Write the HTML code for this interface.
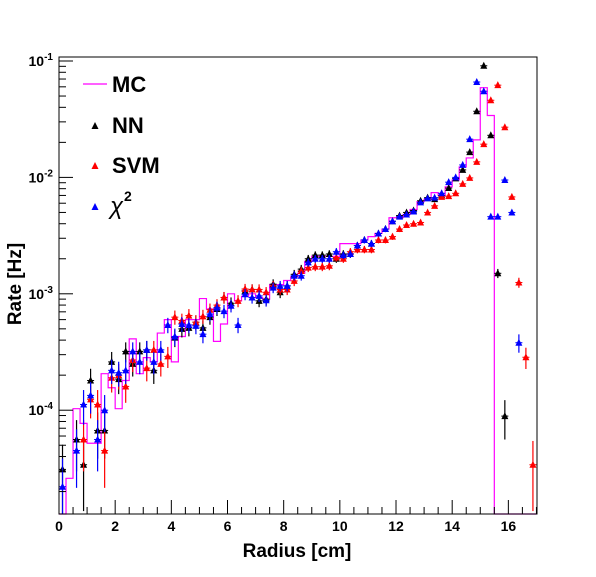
<!DOCTYPE html>
<html><head><meta charset="utf-8"><style>
body{margin:0;background:#fff}
svg text{font-family:"Liberation Sans",Arial,sans-serif}
</style></head><body>
<svg id="chart" width="596" height="572" viewBox="0 0 596 572" xmlns="http://www.w3.org/2000/svg">
<rect x="0" y="0" width="596" height="572" fill="#fff"/>
<g id="marks"></g>
<rect x="59" y="57" width="478" height="457" fill="none" stroke="#000" stroke-width="1"/>
<g id="axes"></g>
<text x="297" y="557" text-anchor="middle" font-size="19" font-weight="bold">Radius [cm]</text>
<text transform="translate(21,284) rotate(-90)" text-anchor="middle" font-size="19" font-weight="bold">Rate [Hz]</text>
<g>
<g><line x1="83" y1="84" x2="107" y2="84" stroke="#ff00ff" stroke-width="1.2"/><text x="112" y="92" font-size="22" font-weight="bold">MC</text></g>
<g><polygon points="91.5,129 98.5,129 95,122" fill="#000"/><text x="112" y="133" font-size="22" font-weight="bold">NN</text></g>
<g><polygon points="91.5,169 98.5,169 95,162" fill="#ff0000"/><text x="112" y="173" font-size="22" font-weight="bold">SVM</text></g>
<g><polygon points="91.5,210 98.5,210 95,203" fill="#0000ff"/><text x="110" y="214" font-size="24" font-style="italic">χ</text><text x="124" y="201" font-size="14" font-weight="bold">2</text></g>
</g>
</svg>
<script>
const binWidth = 0.25;
const mcRate = [0,2.6e-5,1.03e-4,7.7e-5,5.2e-5,5.2e-5,2.06e-4,1.56e-4,1.03e-4,1.8e-4,4.1e-4,2.06e-4,2.83e-4,2.6e-4,4.6e-4,6.0e-4,2.6e-4,4.3e-4,6.0e-4,6.0e-4,9.1e-4,7.4e-4,3.9e-4,5.5e-4,1.0e-3,8.7e-4,9.5e-4,1.0e-3,9.3e-4,9.0e-4,1.2e-3,1.2e-3,1.3e-3,1.4e-3,1.5e-3,1.9e-3,2.1e-3,2.1e-3,2.1e-3,2.1e-3,2.7e-3,2.7e-3,2.7e-3,2.9e-3,3.1e-3,3.3e-3,3.6e-3,4.5e-3,4.5e-3,4.8e-3,5.3e-3,6.2e-3,6.5e-3,7.4e-3,7.0e-3,8.3e-3,9.5e-3,1.23e-2,1.47e-2,2.1e-2,5.9e-2,3.4e-2,0,0,0,0,0,0];
const nnRate = [3.1e-5,null,5.6e-5,3.4e-5,1.8e-4,6.7e-5,6.7e-5,2.6e-4,1.85e-4,3.2e-4,2.5e-4,3.2e-4,3.3e-4,2.2e-4,null,null,4.2e-4,5.0e-4,5.1e-4,5.7e-4,5.1e-4,6.3e-4,7.4e-4,9.3e-4,8.3e-4,null,1.06e-3,1.09e-3,8.7e-4,9.0e-4,1.21e-3,1.03e-3,1.17e-3,1.47e-3,1.63e-3,2.0e-3,2.15e-3,2.15e-3,2.2e-3,2.0e-3,2.2e-3,2.2e-3,2.6e-3,2.9e-3,2.7e-3,3.3e-3,3.6e-3,4.2e-3,4.7e-3,5.0e-3,5.2e-3,6.3e-3,6.7e-3,6.5e-3,7.0e-3,8.1e-3,9.8e-3,1.16e-2,1.65e-2,3.7e-2,9.1e-2,2.3e-2,1.5e-3,8.9e-5,null,null,null,null];
const svmRate = [null,null,null,5.6e-5,1.24e-4,1.12e-4,4.5e-5,1.9e-4,2.0e-4,1.6e-4,2.7e-4,null,2.3e-4,3.3e-4,2.5e-4,2.9e-4,6.3e-4,5.9e-4,6.5e-4,5.7e-4,6.4e-4,7.3e-4,8.0e-4,9.3e-4,null,8.7e-4,1.1e-3,1.09e-3,1.09e-3,1.03e-3,1.17e-3,1.09e-3,1.09e-3,1.29e-3,1.57e-3,1.68e-3,1.71e-3,1.71e-3,1.74e-3,2.05e-3,2.0e-3,2.3e-3,2.4e-3,2.4e-3,2.4e-3,2.9e-3,2.9e-3,3.1e-3,3.6e-3,3.9e-3,4.0e-3,4.1e-3,5.0e-3,5.7e-3,6.8e-3,6.9e-3,7.3e-3,8.8e-3,9.9e-3,1.36e-2,1.93e-2,4.6e-2,6.2e-2,2.7e-2,6.8e-3,1.25e-3,2.85e-4,3.4e-5];
const chi2Rate = [2.2e-5,null,4.5e-5,1.12e-4,1.34e-4,5.6e-5,1.0e-4,2.2e-4,2.1e-4,2.2e-4,3.2e-4,2.6e-4,3.3e-4,2.6e-4,3.3e-4,5.4e-4,4.3e-4,5.5e-4,5.4e-4,5.3e-4,4.5e-4,6.7e-4,7.6e-4,7.1e-4,7.9e-4,5.4e-4,9.9e-4,9.3e-4,9.6e-4,8.8e-4,1.13e-3,1.17e-3,1.17e-3,1.43e-3,1.43e-3,1.86e-3,2.0e-3,2.0e-3,2.0e-3,2.3e-3,2.15e-3,2.2e-3,2.6e-3,2.9e-3,2.7e-3,3.3e-3,3.6e-3,4.2e-3,4.6e-3,4.8e-3,5.1e-3,6.1e-3,6.6e-3,6.7e-3,7.3e-3,9.1e-3,1.0e-2,1.28e-2,2.13e-2,6.6e-2,5.5e-2,4.6e-3,4.6e-3,9.5e-3,5.0e-3,3.8e-4,null,null];
const xTickLabels = ["0","2","4","6","8","10","12","14","16"];
const yDecades = [-4,-3,-2,-1];

const NS="http://www.w3.org/2000/svg";
const X0=59,X1=537,Y0=57,Y1=514,XMIN=0,XMAX=17.02;
const LOGTOP=-1+(61-57)/116.4, LOGBOT=-1-(514-61)/116.4;
function xs(v){return X0+(v-XMIN)/(XMAX-XMIN)*(X1-X0);}
function ys(v){const l=Math.log10(v);return Y0+(LOGTOP-l)/(LOGTOP-LOGBOT)*(Y1-Y0);}
function el(t,a,p){const e=document.createElementNS(NS,t);for(const k in a)e.setAttribute(k,a[k]);p.appendChild(e);return e;}
const marks=document.getElementById('marks');
const axes=document.getElementById('axes');

// MC histogram
let d="";let prevY=Y1;
mcRate.forEach((v,i)=>{
  const xa=xs(i*binWidth),xb=xs((i+1)*binWidth);
  const y=v>0?Math.min(ys(v),Y1):Y1;
  d+=(i===0?"M"+xa+","+y:"L"+xa+","+y)+"L"+xb+","+y;
});
const mc=el('path',{d:d,fill:'none',stroke:'#ff00ff','stroke-width':1.2},marks);



function series(arr,color,name){
  const g=el('g',{},marks);
  
  
  arr.forEach((v,i)=>{
    if(v==null)return;
    const cx=xs((i+0.5)*binWidth),cy=ys(v);
    const rel=Math.min(0.0035/Math.sqrt(v),0.93);
    const yt=ys(v*(1+rel)),yb=Math.min(ys(v*(1-rel)),Y1);
    const pt=el('g',{},g);
    
    
    el('line',{x1:cx,y1:yt,x2:cx,y2:yb,stroke:color,'stroke-width':1.2},pt);
    el('line',{x1:cx-3.5,y1:cy,x2:cx+3.5,y2:cy,stroke:color,'stroke-width':1},pt);
    el('polygon',{points:(cx-3.5)+","+(cy+3)+" "+(cx+3.5)+","+(cy+3)+" "+cx+","+(cy-4),fill:color},pt);
  });
}
series(nnRate,'#000000','nn');
series(svmRate,'#ff0000','svm');
series(chi2Rate,'#0000ff','chi2');

// x ticks
for(let v=0;v<=17.0;v+=0.5){
  const x=xs(v);const major=Math.abs(v/2-Math.round(v/2))<1e-6;
  el('line',{x1:x,y1:Y1,x2:x,y2:Y1-(major?14:7),stroke:'#000','stroke-width':1},axes);
}
xTickLabels.forEach((t,i)=>{
  const tx=el('text',{x:xs(i*2),y:Y1+17,'text-anchor':'middle','font-size':14,'font-weight':'bold'},axes);
  tx.textContent=t;
  
  
});
// y ticks
for(let dcd=-5;dcd<=-1;dcd++){
  for(let m=1;m<=9;m++){
    const v=m*Math.pow(10,dcd);const y=ys(v);
    if(y<Y0-0.5||y>Y1+0.5)continue;
    el('line',{x1:X0,y1:y,x2:X0+(m===1?14:7),y2:y,stroke:'#000','stroke-width':1},axes);
  }
}
yDecades.forEach(dc=>{
  const y=ys(Math.pow(10,dc));
  const tx=el('text',{x:X0-6,y:y+5,'text-anchor':'end','font-size':14,'font-weight':'bold'},axes);
  
  
  const a=document.createElementNS(NS,'tspan');a.textContent='10';tx.appendChild(a);
  const b=document.createElementNS(NS,'tspan');b.setAttribute('dy','-6');b.setAttribute('font-size','10');b.textContent=String(dc);tx.appendChild(b);
});
</script>
</body></html>
